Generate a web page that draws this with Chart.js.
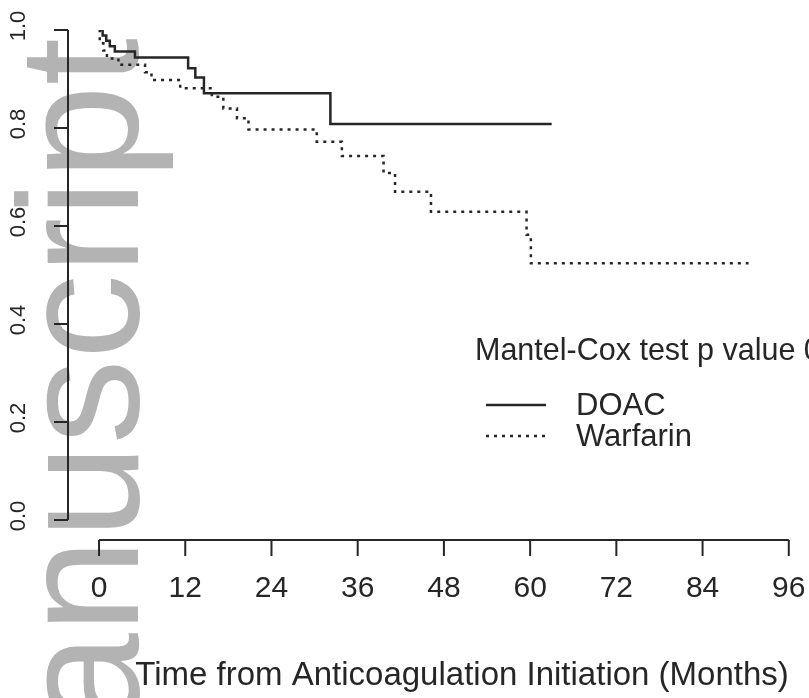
<!DOCTYPE html>
<html>
<head>
<meta charset="utf-8">
<script src="https://cdn.jsdelivr.net/npm/chart.js@4.4.0/dist/chart.umd.min.js"></script>
<style>
  html, body { margin: 0; padding: 0; background: #fff; }
</style>
</head>
<body>
<canvas id="km" width="809" height="698"></canvas>
<script>
// Kaplan-Meier curves: months vs. proportion event-free
const doacMonths = [0, 0.5, 1.0, 1.5, 2.2, 5.0, 12.4, 13.4, 14.6, 32.2, 63.0];
const doacSurv   = [1.0, 0.989, 0.978, 0.967, 0.956, 0.944, 0.922, 0.903, 0.871, 0.808, 0.808];
const warfMonths = [0, 0.1, 0.6, 1.1, 2.7, 6.4, 7.3, 11.3, 15.7, 17.3, 19.2, 20.8, 30.3, 33.8, 39.6, 41.2, 46.2, 59.5, 60.1, 90.4];
const warfSurv   = [1.0, 0.973, 0.958, 0.942, 0.929, 0.914, 0.898, 0.881, 0.864, 0.840, 0.820, 0.797, 0.772, 0.743, 0.708, 0.670, 0.629, 0.582, 0.524, 0.524];

const xTicks = [0, 12, 24, 36, 48, 60, 72, 84, 96];
const yTicks = [0, 0.2, 0.4, 0.6, 0.8, 1.0];

const legendTitle = 'Mantel-Cox test p value 0.04';
const xTitle = 'Time from Anticoagulation Initiation (Months)';
const watermark = 'manuscript';

const INK = '#262626';
const FONT = '"Liberation Sans", Arial, sans-serif';

function toPoints(xs, ys) {
    return xs.map((x, i) => ({ x: x, y: ys[i] }));
}

// R-style axes (lines only span the ticks), legend, labels and the grey watermark
const rStyle = {
    id: 'rStyle',
    beforeDraw(chart) {
        const ctx = chart.ctx;
        ctx.save();
        ctx.fillStyle = '#b3b3b3';
        ctx.font = '170px ' + FONT;
        ctx.translate(138, 38);
        ctx.rotate(-Math.PI / 2);
        ctx.textAlign = 'right';
        ctx.textBaseline = 'alphabetic';
        ctx.fillText(watermark, 0, 0);
        ctx.restore();
    },
    afterDraw(chart) {
        const ctx = chart.ctx;
        const xs = chart.scales.x, ys = chart.scales.y;
        const area = chart.chartArea;
        ctx.save();
        ctx.strokeStyle = INK;
        ctx.fillStyle = INK;
        ctx.lineWidth = 2;

        // y axis
        const yx = area.left;
        ctx.beginPath();
        ctx.moveTo(yx, ys.getPixelForValue(yTicks[0]));
        ctx.lineTo(yx, ys.getPixelForValue(yTicks[yTicks.length - 1]));
        ys.ticks.forEach(t => {
            const py = ys.getPixelForValue(t.value);
            ctx.moveTo(yx, py);
            ctx.lineTo(yx - 14, py);
        });
        ctx.stroke();
        ctx.font = '22px ' + FONT;
        ctx.textAlign = 'center';
        ctx.textBaseline = 'middle';
        ys.ticks.forEach(t => {
            const py = ys.getPixelForValue(t.value);
            ctx.save();
            ctx.translate(19, py - 4);
            ctx.rotate(-Math.PI / 2);
            ctx.fillText(t.value.toFixed(1), 0, 0);
            ctx.restore();
        });

        // x axis
        const xy = area.bottom + 20;
        ctx.beginPath();
        ctx.moveTo(xs.getPixelForValue(xTicks[0]), xy);
        ctx.lineTo(xs.getPixelForValue(xTicks[xTicks.length - 1]), xy);
        xs.ticks.forEach(t => {
            const px = xs.getPixelForValue(t.value);
            ctx.moveTo(px, xy);
            ctx.lineTo(px, xy + 16);
        });
        ctx.stroke();

        // axis title
        ctx.font = '33px ' + FONT;
        ctx.textAlign = 'center';
        ctx.fillText(xTitle, 462, 676);

        // legend
        ctx.textAlign = 'left';
        ctx.font = '30.5px ' + FONT;
        ctx.fillText(legendTitle, 475, 352);
        chart.data.datasets.forEach((ds, i) => {
            const ly = 405 + i * 31;
            ctx.save();
            ctx.lineWidth = ds.borderWidth;
            ctx.setLineDash(ds.borderDash || []);
            ctx.beginPath();
            ctx.moveTo(486, ly);
            ctx.lineTo(546, ly);
            ctx.stroke();
            ctx.restore();
            ctx.font = '31px ' + FONT;
            ctx.fillText(ds.label, 576, ly + 1);
        });
        ctx.restore();
    }
};

new Chart(document.getElementById('km'), {
    type: 'line',
    data: {
        datasets: [
            {
                label: 'DOAC',
                data: toPoints(doacMonths, doacSurv),
                borderColor: INK,
                borderWidth: 2.5,
                stepped: true,
                pointRadius: 0,
                fill: false
            },
            {
                label: 'Warfarin',
                data: toPoints(warfMonths, warfSurv),
                borderColor: INK,
                borderWidth: 2.5,
                borderDash: [3, 5],
                stepped: true,
                pointRadius: 0,
                fill: false
            }
        ]
    },
    options: {
        responsive: false,
        devicePixelRatio: 1,
        animation: false,
        layout: { padding: { top: 30, left: 0, right: 9, bottom: 0 } },
        plugins: { legend: { display: false }, tooltip: { enabled: false } },
        scales: {
            x: {
                type: 'linear',
                min: -4.32,
                max: 97.56,
                grid: { display: false },
                border: { display: false },
                afterBuildTicks: s => { s.ticks = xTicks.map(v => ({ value: v })); },
                ticks: {
                    font: { family: FONT, size: 30 },
                    color: INK,
                    padding: 43,
                    maxRotation: 0,
                    autoSkip: false
                },
                afterFit: s => { s.height = 178; s.paddingLeft = 0; s.paddingRight = 0; }
            },
            y: {
                min: 0,
                max: 1,
                grid: { display: false },
                border: { display: false },
                afterBuildTicks: s => { s.ticks = yTicks.map(v => ({ value: v })); },
                ticks: { display: false },
                afterFit: s => { s.width = 68; s.paddingTop = 0; s.paddingBottom = 0; }
            }
        }
    },
    plugins: [rStyle]
});
</script>
</body>
</html>
